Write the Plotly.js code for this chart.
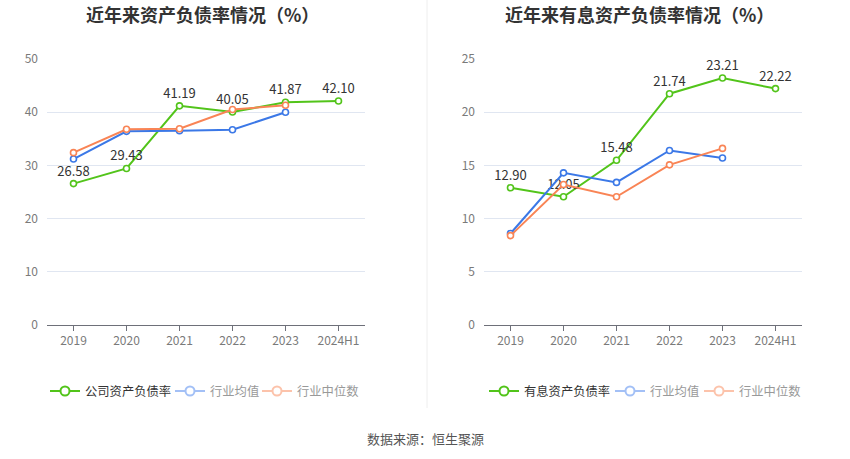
<!DOCTYPE html>
<html>
<head>
<meta charset="utf-8">
<script src="https://cdn.plot.ly/plotly-3.0.1.min.js"></script>
<style>html,body{margin:0;padding:0;background:#fff;}#chart{width:850px;height:459px;}</style>
</head>
<body>
<div id="chart"></div>
<script>
// ---- data ----
var years = ['2019', '2020', '2021', '2022', '2023', '2024H1'];
var debtRatio = [26.58, 29.43, 41.19, 40.05, 41.87, 42.10];
var debtIndAvg = [31.2, 36.4, 36.5, 36.7, 40.0, null];
var debtIndMed = [32.4, 36.8, 36.9, 40.5, 41.3, null];
var ibRatio = [12.90, 12.05, 15.48, 21.74, 23.21, 22.22];
var ibIndAvg = [8.6, 14.3, 13.4, 16.4, 15.7, null];
var ibIndMed = [8.4, 13.2, 12.05, 15.05, 16.6, null];
var leftTitle = '近年来资产负债率情况（%）';
var rightTitle = '近年来有息资产负债率情况（%）';
var leftNames = ['公司资产负债率', '行业均值', '行业中位数'];
var rightNames = ['有息资产负债率', '行业均值', '行业中位数'];
var sourceText = '数据来源：恒生聚源';

// ---- styles ----
var W = 850, H = 459;
var FONT = '"Noto Sans CJK SC", "Noto Sans", sans-serif';
var GREEN = '#52c41a', BLUE = '#3b78e7', ORANGE = '#f98455';
var GREEN_L = '#52c41a', BLUE_L = '#a3c0f6', ORANGE_L = '#fcc3ab';
var plotTop = 59, plotBottom = 325;
var plotH = plotBottom - plotTop;
function py(p) { return (plotBottom - p) / plotH; }
function px(p) { return p / W; }

function line(x, y, color, xa, ya, withText) {
  var t = {
    type: 'scatter', mode: withText ? 'lines+markers+text' : 'lines+markers',
    x: x, y: y, xaxis: xa, yaxis: ya, showlegend: false, hoverinfo: 'skip',
    line: {color: color, width: 2},
    marker: {symbol: 'circle', size: 6, color: '#fff', line: {color: color, width: 1.6}},
    cliponaxis: false
  };
  if (withText) {
    t.text = y.map(function (v) { return v == null ? '' : v.toFixed(2); });
    t.textposition = 'top center';
    t.textfont = {family: FONT, size: 13, color: '#333'};
  }
  return t;
}
function legendItem(name, color, legendId) {
  return {
    type: 'scatter', mode: 'lines+markers', x: [null], y: [null], name: name,
    xaxis: 'x', yaxis: 'y', legend: legendId, showlegend: true, hoverinfo: 'skip',
    line: {color: color, width: 2},
    marker: {symbol: 'circle', size: 9, color: '#fff', line: {color: color, width: 2}}
  };
}

var data = [
  line(years, debtRatio, GREEN, 'x', 'y', true),
  line(years, debtIndAvg, BLUE, 'x', 'y', false),
  line(years, debtIndMed, ORANGE, 'x', 'y', false),
  line(years, ibRatio, GREEN, 'x2', 'y2', true),
  line(years, ibIndAvg, BLUE, 'x2', 'y2', false),
  line(years, ibIndMed, ORANGE, 'x2', 'y2', false),
  legendItem(leftNames[0], GREEN_L, 'legend'),
  legendItem(leftNames[1], BLUE_L, 'legend2'),
  legendItem(leftNames[2], ORANGE_L, 'legend3'),
  legendItem(rightNames[0], GREEN_L, 'legend4'),
  legendItem(rightNames[1], BLUE_L, 'legend5'),
  legendItem(rightNames[2], ORANGE_L, 'legend6')
];

function xAxis(d0, d1, anchor) {
  return {
    domain: [px(d0), px(d1)], anchor: anchor, type: 'category', range: [-0.5, 5.5],
    showline: true, linecolor: '#6e7079', linewidth: 1, ticks: 'outside', ticklen: 5,
    tickcolor: '#6e7079', showgrid: false, zeroline: false, fixedrange: true,
    tickfont: {family: FONT, size: 12, color: '#7a7a7a'}
  };
}
function yAxis(maxV, dt, anchor) {
  return {
    anchor: anchor, range: [0, maxV], dtick: dt, tick0: 0, showgrid: true,
    gridcolor: '#e0e6f1', gridwidth: 1, zeroline: false, showline: false, ticks: '',
    ticklabelstandoff: 8, fixedrange: true,
    tickfont: {family: FONT, size: 12, color: '#7a7a7a'}
  };
}
function legendCfg(xPix, dark) {
  return {
    orientation: 'h', x: px(xPix), xanchor: 'left', y: py(391), yanchor: 'middle',
    bgcolor: 'rgba(0,0,0,0)', borderwidth: 0, itemwidth: 30,
    font: {family: FONT, size: 12.3, color: dark ? '#333' : '#999'},
    itemclick: false, itemdoubleclick: false
  };
}

var layout = {
  width: W, height: H, paper_bgcolor: '#fff', plot_bgcolor: '#fff',
  margin: {l: 0, r: 0, t: plotTop, b: H - plotBottom, pad: 0},
  font: {family: FONT},
  showlegend: true,
  xaxis: xAxis(47, 365, 'y'),
  yaxis: yAxis(50, 10, 'x'),
  xaxis2: xAxis(484, 802, 'y2'),
  yaxis2: yAxis(25, 5, 'x2'),
  legend: legendCfg(45, true),
  legend2: legendCfg(170, false),
  legend3: legendCfg(257, false),
  legend4: legendCfg(484, true),
  legend5: legendCfg(610, false),
  legend6: legendCfg(699, false),
  shapes: [{
    type: 'line', xref: 'paper', yref: 'paper', x0: px(427), x1: px(427),
    y0: py(0), y1: py(408), line: {color: '#eeeeee', width: 1}
  }],
  annotations: [
    {text: leftTitle, xref: 'paper', yref: 'paper', x: px(202), y: py(14), xanchor: 'center', yanchor: 'middle',
     showarrow: false, font: {family: FONT, size: 18, color: '#333', weight: 'bold'}},
    {text: rightTitle, xref: 'paper', yref: 'paper', x: px(639), y: py(14), xanchor: 'center', yanchor: 'middle',
     showarrow: false, font: {family: FONT, size: 18, color: '#333', weight: 'bold'}},
    {text: sourceText, xref: 'paper', yref: 'paper', x: px(425), y: py(438), xanchor: 'center', yanchor: 'middle',
     showarrow: false, font: {family: FONT, size: 13, color: '#555'}}
  ]
};

Plotly.newPlot('chart', data, layout, {displayModeBar: false, staticPlot: true});
</script>
</body>
</html>
